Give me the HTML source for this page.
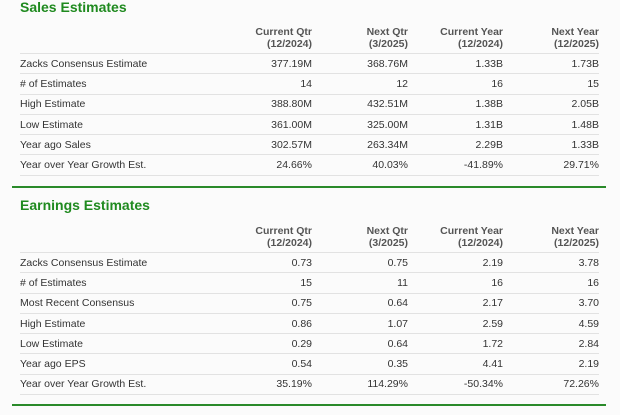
<!DOCTYPE html>
<html><head><meta charset="utf-8"><style>
body{margin:0;width:620px;height:415px;background:#fbfbfb;font-family:"Liberation Sans",Arial,sans-serif;color:#333;position:relative;overflow:hidden}
.t{position:absolute;left:20px;font-size:14px;font-weight:bold;color:#1f8a1f}
.g{position:absolute;left:12px;width:594px;height:2px;background:#2a8a2a}
table{position:absolute;left:20px;width:579px;border-collapse:collapse;font-size:10.5px}
th{font-weight:bold;color:#555;text-align:right;line-height:12px;height:30px;vertical-align:middle;border-bottom:1px solid #e2e2e2;padding:0}
td{height:19.3px;border-bottom:1px solid #e2e2e2;text-align:right;padding:0}
td:first-child{text-align:left}
</style></head><body>
<div class="t" style="top:-1px">Sales Estimates</div>
<table style="top:23px">
<colgroup><col style="width:200px"><col style="width:92px"><col style="width:96px"><col style="width:95px"><col style="width:96px"></colgroup>
<tr><th></th><th>Current Qtr<br>(12/2024)</th><th>Next Qtr<br>(3/2025)</th><th>Current Year<br>(12/2024)</th><th>Next Year<br>(12/2025)</th></tr>
<tr><td>Zacks Consensus Estimate</td><td>377.19M</td><td>368.76M</td><td>1.33B</td><td>1.73B</td></tr>
<tr><td># of Estimates</td><td>14</td><td>12</td><td>16</td><td>15</td></tr>
<tr><td>High Estimate</td><td>388.80M</td><td>432.51M</td><td>1.38B</td><td>2.05B</td></tr>
<tr><td>Low Estimate</td><td>361.00M</td><td>325.00M</td><td>1.31B</td><td>1.48B</td></tr>
<tr><td>Year ago Sales</td><td>302.57M</td><td>263.34M</td><td>2.29B</td><td>1.33B</td></tr>
<tr><td>Year over Year Growth Est.</td><td>24.66%</td><td>40.03%</td><td>-41.89%</td><td>29.71%</td></tr>
</table>
<div class="g" style="top:186px"></div>
<div class="t" style="top:197px">Earnings Estimates</div>
<table style="top:222px">
<colgroup><col style="width:200px"><col style="width:92px"><col style="width:96px"><col style="width:95px"><col style="width:96px"></colgroup>
<tr><th></th><th>Current Qtr<br>(12/2024)</th><th>Next Qtr<br>(3/2025)</th><th>Current Year<br>(12/2024)</th><th>Next Year<br>(12/2025)</th></tr>
<tr><td>Zacks Consensus Estimate</td><td>0.73</td><td>0.75</td><td>2.19</td><td>3.78</td></tr>
<tr><td># of Estimates</td><td>15</td><td>11</td><td>16</td><td>16</td></tr>
<tr><td>Most Recent Consensus</td><td>0.75</td><td>0.64</td><td>2.17</td><td>3.70</td></tr>
<tr><td>High Estimate</td><td>0.86</td><td>1.07</td><td>2.59</td><td>4.59</td></tr>
<tr><td>Low Estimate</td><td>0.29</td><td>0.64</td><td>1.72</td><td>2.84</td></tr>
<tr><td>Year ago EPS</td><td>0.54</td><td>0.35</td><td>4.41</td><td>2.19</td></tr>
<tr><td>Year over Year Growth Est.</td><td>35.19%</td><td>114.29%</td><td>-50.34%</td><td>72.26%</td></tr>
</table>
<div class="g" style="top:404px"></div>
</body></html>
